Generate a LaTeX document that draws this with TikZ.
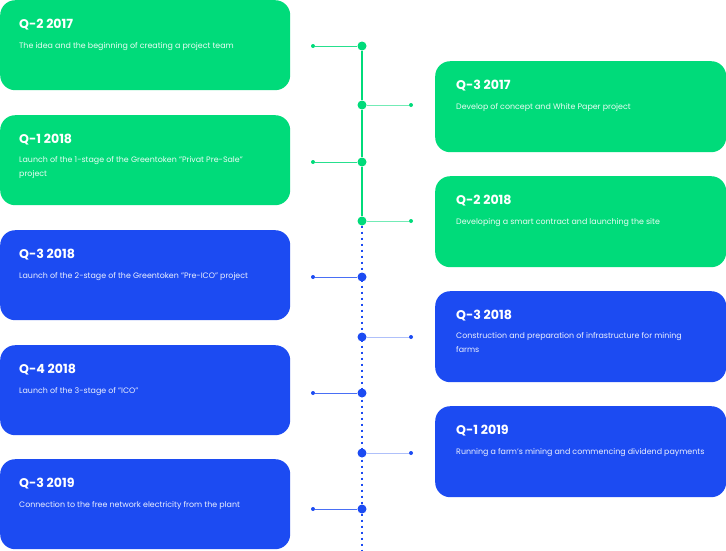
\documentclass[tikz,border=0pt]{standalone}
\usepackage{fontspec}
\setmainfont{Poppins}
\definecolor{gr}{HTML}{00DB7A}
\definecolor{bl}{HTML}{1C4BF2}
\begin{document}
\begin{tikzpicture}[x=1pt,y=-1pt,
  card/.style={rounded corners=15pt, minimum width=290pt, minimum height=90pt, inner sep=0pt, anchor=north west},
  ttl/.style={anchor=base west, text=white, font=\fontsize{12.6}{15}\selectfont\bfseries, inner sep=0pt},
  dsc/.style={anchor=base west, text=white, font=\fontsize{7.9}{14}\selectfont, inner sep=0pt, align=left, text opacity=0.92},
  big/.style={circle, minimum size=9pt, inner sep=0pt},
  small/.style={circle, minimum size=4pt, inner sep=0pt},
  conn/.style={line width=1pt}]
\useasboundingbox (0,0) rectangle (726,550);
% left cards
\node[card, fill=gr] (c1) at (0,0) {};
\node[ttl] (t1) at ([xshift=19pt, yshift=-28pt]c1.north west) {Q-2 2017};
\node[dsc] (s1) at ([xshift=19pt, yshift=-48pt]c1.north west) {The idea and the beginning of creating a project team};
\node[card, fill=gr] (c3) at (0,115) {};
\node[ttl] (t3) at ([xshift=19pt, yshift=-28pt]c3.north west) {Q-1 2018};
\node[dsc, anchor=north west] (s3) at ([xshift=19pt, yshift=-41pt]c3.north west) {Launch of the 1-stage of the Greentoken "Privat Pre-Sale"\\project};
\node[card, fill=bl] (c5) at (0,230) {};
\node[ttl] (t5) at ([xshift=19pt, yshift=-28pt]c5.north west) {Q-3 2018};
\node[dsc] (s5) at ([xshift=19pt, yshift=-48pt]c5.north west) {Launch of the 2-stage of the Greentoken "Pre-ICO" project};
\node[card, fill=bl] (c7) at (0,345) {};
\node[ttl] (t7) at ([xshift=19pt, yshift=-28pt]c7.north west) {Q-4 2018};
\node[dsc] (s7) at ([xshift=19pt, yshift=-48pt]c7.north west) {Launch of the 3-stage of "ICO"};
\node[card, fill=bl] (c9) at (0,459) {};
\node[ttl] (t9) at ([xshift=19pt, yshift=-28pt]c9.north west) {Q-3 2019};
\node[dsc] (s9) at ([xshift=19pt, yshift=-48pt]c9.north west) {Connection to the free network electricity from the plant};
% right cards
\node[card, fill=gr, minimum width=291pt, minimum height=91pt] (c2) at (435,61) {};
\node[ttl] (t2) at ([xshift=21pt, yshift=-28pt]c2.north west) {Q-3 2017};
\node[dsc] (s2) at ([xshift=21pt, yshift=-48pt]c2.north west) {Develop of concept and White Paper project};
\node[card, fill=gr, minimum width=291pt, minimum height=91pt] (c4) at (435,176) {};
\node[ttl] (t4) at ([xshift=21pt, yshift=-28pt]c4.north west) {Q-2 2018};
\node[dsc] (s4) at ([xshift=21pt, yshift=-48pt]c4.north west) {Developing a smart contract and launching the site};
\node[card, fill=bl, minimum width=291pt, minimum height=91pt] (c6) at (435,291) {};
\node[ttl] (t6) at ([xshift=21pt, yshift=-28pt]c6.north west) {Q-3 2018};
\node[dsc, anchor=north west] (s6) at ([xshift=21pt, yshift=-41pt]c6.north west) {Construction and preparation of infrastructure for mining\\farms};
\node[card, fill=bl, minimum width=291pt, minimum height=91pt] (c8) at (435,406) {};
\node[ttl] (t8) at ([xshift=21pt, yshift=-28pt]c8.north west) {Q-1 2019};
\node[dsc] (s8) at ([xshift=21pt, yshift=-48pt]c8.north west) {Running a farm's mining and commencing dividend payments};
% timeline dots
\node[big, fill=gr] (d1) at (362,46) {};
\node[big, fill=gr] (d2) at (362,105) {};
\node[big, fill=gr] (d3) at (362,162) {};
\node[big, fill=gr] (d4) at (362,221) {};
\node[big, fill=bl] (d5) at (362,277) {};
\node[big, fill=bl] (d6) at (362,337) {};
\node[big, fill=bl] (d7) at (362,393) {};
\node[big, fill=bl] (d8) at (362,453) {};
\node[big, fill=bl] (d9) at (362,509) {};
\coordinate (dend) at (362,550);
% end dots
\node[small, fill=gr] (e1) at (313,46) {};
\node[small, fill=gr] (e2) at (411,105) {};
\node[small, fill=gr] (e3) at (313,162) {};
\node[small, fill=gr] (e4) at (411,221) {};
\node[small, fill=bl] (e5) at (313,277) {};
\node[small, fill=bl] (e6) at (411,337) {};
\node[small, fill=bl] (e7) at (313,393) {};
\node[small, fill=bl] (e8) at (411,453) {};
\node[small, fill=bl] (e9) at (313,509) {};
% spine
\draw[gr, line width=1.6pt] (d1) -- (d2);
\draw[gr, line width=1.6pt] (d2) -- (d3);
\draw[gr, line width=1.6pt] (d3) -- (d4);
\draw[bl, line width=2pt, dash pattern=on 2pt off 4pt] (d4) -- (dend);
% connectors
\draw[conn, gr!85] (e1) -- (d1);
\draw[conn, gr!55] (d2) -- (e2);
\draw[conn, gr!85] (e3) -- (d3);
\draw[conn, gr!55] (d4) -- (e4);
\draw[conn, bl!80] (e5) -- (d5);
\draw[conn, bl!35] (d6) -- (e6);
\draw[conn, bl!80] (e7) -- (d7);
\draw[conn, bl!35] (d8) -- (e8);
\draw[conn, bl!80] (e9) -- (d9);
\end{tikzpicture}
\end{document}
